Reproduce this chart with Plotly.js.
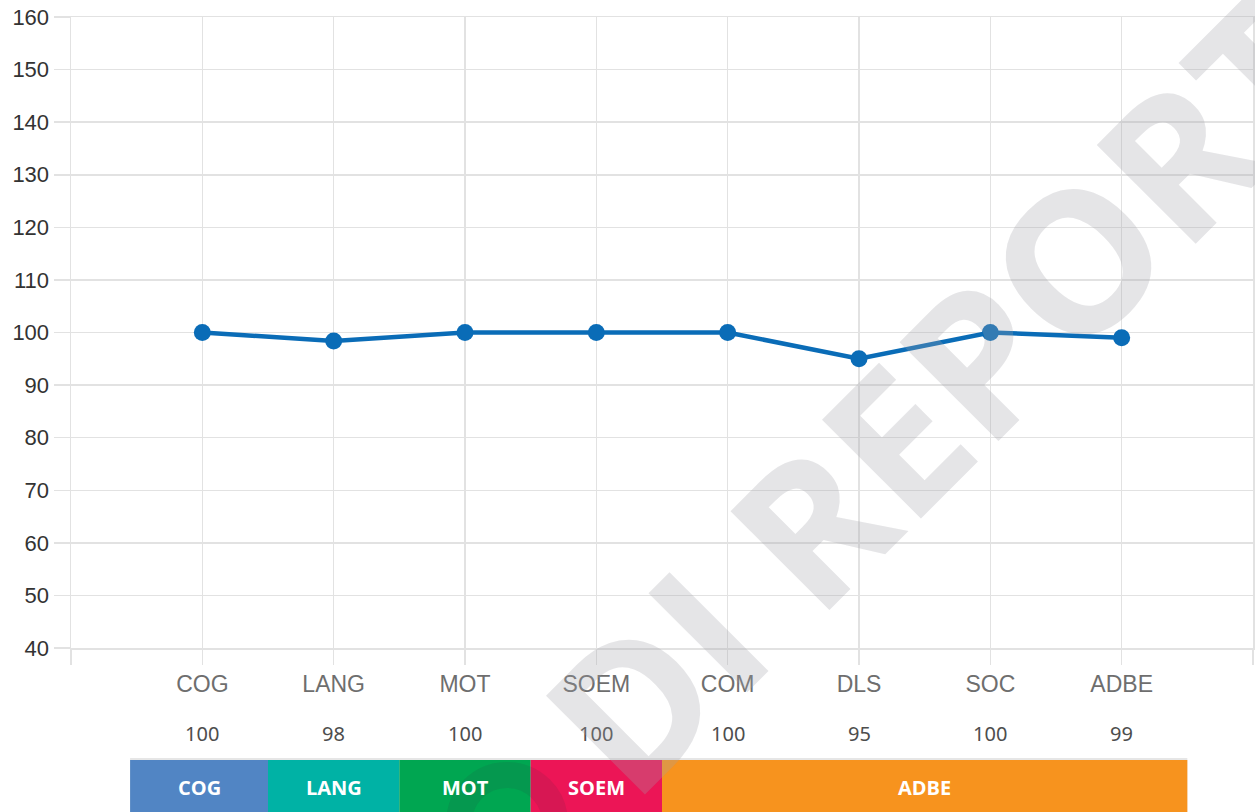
<!DOCTYPE html>
<html>
<head>
<meta charset="utf-8">
<script src="https://cdn.plot.ly/plotly-3.0.1.min.js"></script>
<style>html,body{margin:0;padding:0;background:#fff;}#chart{width:1255px;height:812px;}</style>
</head>
<body>
<div id="chart"></div>
<script>
// ---- data ----
var categories = ['COG', 'LANG', 'MOT', 'SOEM', 'COM', 'DLS', 'SOC', 'ADBE'];
var scores = [100, 98.4, 100, 100, 100, 95, 100, 99];
var scoreLabels = ['100', '98', '100', '100', '100', '95', '100', '99'];
var groupNames = ['COG', 'LANG', 'MOT', 'SOEM', 'ADBE'];
var groupFirst = [0, 1, 2, 3, 4];   // first category index of each group
var groupLast = [0, 1, 2, 3, 7];    // last category index of each group
var groupColors = ['#5185c4', '#00b2a5', '#00a651', '#ec1556', '#f7931e'];
var yTicks = [40, 50, 60, 70, 80, 90, 100, 110, 120, 130, 140, 150, 160];
var watermark = 'DI REPORT';

// ---- build ----
var idx = categories.map(function (c, i) { return i; });
var tickVals = [-1].concat(idx).concat([categories.length]);
var tickText = [''].concat(categories).concat(['']);

var trace = {
  x: idx,
  y: scores,
  type: 'scatter',
  mode: 'lines+markers',
  line: {color: '#0a6cb7', width: 4.5},
  marker: {color: '#0a6cb7', size: 17},
  hoverinfo: 'skip'
};

var plotLeft = 71, plotRight = 1253, plotTop = 17, plotBottom = 648;
var plotW = plotRight - plotLeft, plotH = plotBottom - plotTop;
function py(p) { return (plotBottom - p) / plotH; } // pixel y -> paper y
function px(p) { return (p - plotLeft) / plotW; }  // pixel x -> paper x

var shapes = [];
var annotations = [];

// thin light line over the group strip
shapes.push({type: 'rect', xref: 'x', yref: 'paper',
  x0: groupFirst[0] - 0.55, x1: groupLast[groupLast.length - 1] + 0.5,
  y0: py(758), y1: py(812), fillcolor: '#e6e6e6', line: {width: 0}, layer: 'above'});

groupNames.forEach(function (g, i) {
  var x0 = (i === 0 ? groupFirst[i] - 0.55 : groupFirst[i] - 0.5);
  var x1 = groupLast[i] + 0.5;
  shapes.push({type: 'rect', xref: 'x', yref: 'paper', x0: x0, x1: x1,
    y0: py(760), y1: py(812), fillcolor: groupColors[i], line: {width: 0}, layer: 'above'});
  annotations.push({xref: 'x', yref: 'paper', x: (x0 + x1) / 2, y: py(787),
    text: '<b>' + g + '</b>', showarrow: false,
    font: {family: 'Open Sans, Noto Sans, sans-serif', size: 20, color: '#ffffff'},
    xanchor: 'center', yanchor: 'middle'});
});

// faint watermark ring inside the strip
shapes.push({type: 'circle', xref: 'paper', yref: 'paper',
  x0: px(507 - 48), x1: px(507 + 48), y0: py(823 + 48), y1: py(823 - 48),
  fillcolor: 'rgba(0,0,0,0)', line: {color: 'rgba(50,50,60,0.11)', width: 26}, layer: 'above'});

// value row
idx.forEach(function (i) {
  annotations.push({xref: 'x', yref: 'paper', x: i, y: py(733),
    text: scoreLabels[i], showarrow: false,
    font: {family: 'Noto Sans, Open Sans, sans-serif', size: 20, color: '#4d4d4d'},
    xanchor: 'center', yanchor: 'middle'});
});

// watermark
annotations.push({xref: 'paper', yref: 'paper', x: px(940), y: py(392),
  text: '<b>' + watermark + '</b>', showarrow: false, textangle: -45,
  font: {family: 'Open Sans, Noto Sans, sans-serif', size: 196, color: 'rgba(160,163,170,0.28)'},
  xanchor: 'center', yanchor: 'middle'});

var layout = {
  width: 1255,
  height: 812,
  margin: {l: plotLeft, r: 1255 - plotRight, t: plotTop, b: 812 - plotBottom, pad: 0},
  paper_bgcolor: '#ffffff',
  plot_bgcolor: '#ffffff',
  showlegend: false,
  xaxis: {
    range: [-1, categories.length],
    tickvals: tickVals,
    ticktext: tickText,
    showgrid: true,
    gridcolor: '#e2e2e2',
    gridwidth: 1.5,
    zeroline: false,
    showline: true,
    mirror: true,
    linecolor: '#e2e2e2',
    linewidth: 1.5,
    ticks: 'outside',
    ticklen: 15,
    tickwidth: 1.5,
    tickcolor: '#e2e2e2',
    tickfont: {family: 'Liberation Sans, Arial, sans-serif', size: 23, color: '#6e6e6e'},
    fixedrange: true
  },
  yaxis: {
    range: [40, 160],
    tickvals: yTicks,
    showgrid: true,
    gridcolor: '#e2e2e2',
    gridwidth: 1.5,
    zeroline: false,
    showline: true,
    mirror: true,
    linecolor: '#e2e2e2',
    linewidth: 1.5,
    ticks: 'outside',
    ticklen: 16,
    tickwidth: 1.5,
    tickcolor: '#e2e2e2',
    tickfont: {family: 'Liberation Sans, Arial, sans-serif', size: 22, color: '#333333'},
    fixedrange: true
  },
  shapes: shapes,
  annotations: annotations
};

Plotly.newPlot('chart', [trace], layout, {displayModeBar: false, staticPlot: true});
</script>
</body>
</html>
